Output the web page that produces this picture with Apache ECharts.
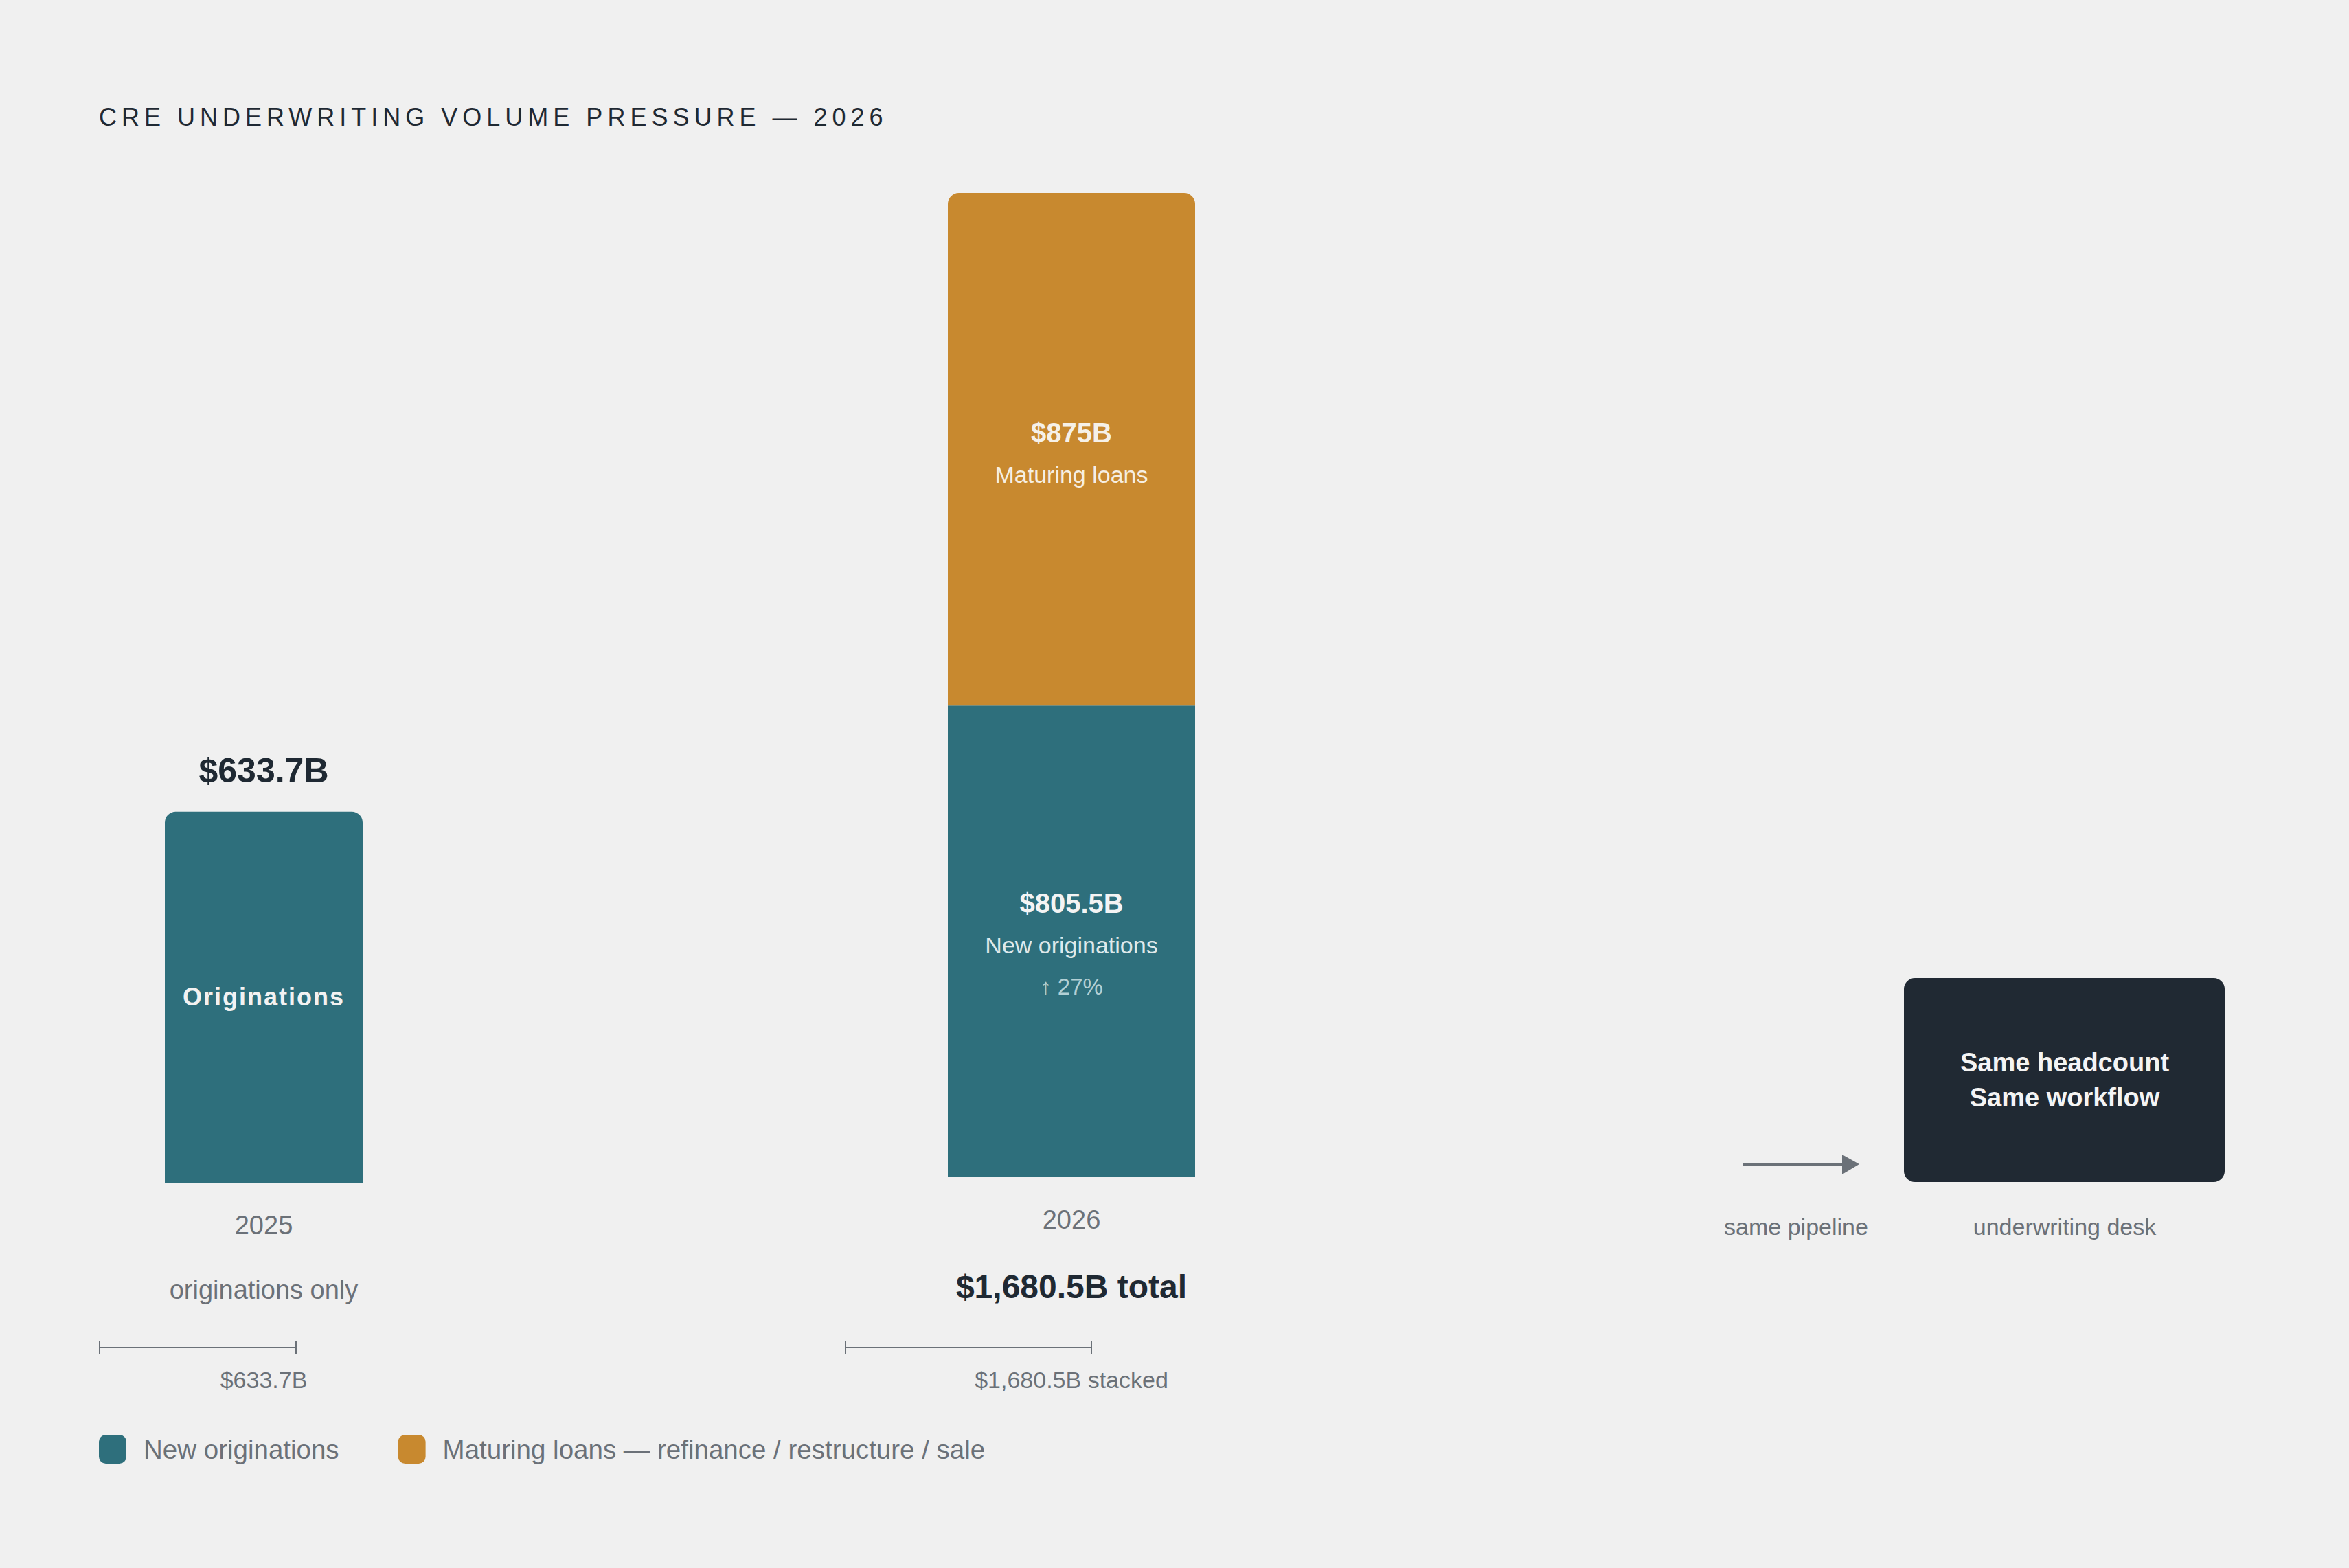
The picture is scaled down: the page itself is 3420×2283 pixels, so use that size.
<!DOCTYPE html>
<html><head><meta charset="utf-8">
<script src="https://cdn.jsdelivr.net/npm/echarts@6/dist/echarts.min.js"></script>
<style>html,body{margin:0;padding:0;background:#f0f0f0;}#c{width:3420px;height:2283px;}</style>
</head><body><div id="c"></div>
<script>
// ---- data ----
const chartTitle = 'CRE UNDERWRITING VOLUME PRESSURE — 2026';
const years = ['2025', '2026'];
const newOriginations = [633.7, 805.5];
const maturingLoans = [0, 875];
const seriesNames = ['New originations', 'Maturing loans — refinance / restructure / sale'];
const segmentNames = ['Originations', 'New originations', 'Maturing loans'];
const yearNotes = ['originations only', 'total'];
const scaleNotes = ['', 'stacked'];
const deskLabels = ['same pipeline', 'underwriting desk'];
const deskLines = ['Same headcount', 'Same workflow'];

// ---- style / layout ----
const FONT = '"Liberation Sans", Arial, Helvetica, sans-serif';
const TEAL = '#2e6f7c', ORANGE = '#c8892f', DARK = '#1f2933', GRAY = '#6b7178', BG = '#f0f0f0';
const PX = 0.8527, YMAX = 1700, PLOT_H = YMAX * PX;
const gridBoxes = [{left: 240, width: 288, base: 1722}, {left: 1380, width: 360, base: 1714}];
const scaleBars = [{x1: 145, x2: 431, y: 1962}, {x1: 1231, x2: 1589, y: 1962}];

const fmtB = v => '$' + v.toLocaleString('en-US', {maximumFractionDigits: 1}) + 'B';
const totals = newOriginations.map((v, i) => v + maturingLoans[i]);
const growthPct = Math.round((newOriginations[1] / newOriginations[0] - 1) * 100);

const chart = echarts.init(document.getElementById('c'), null, {renderer: 'svg'});

const grids = gridBoxes.map(g => ({left: g.left, width: g.width, top: g.base - PLOT_H, height: PLOT_H}));
const xAxes = gridBoxes.map((g, i) => ({
  type: 'category', gridIndex: i, data: [years[i]],
  axisLine: {show: false}, axisTick: {show: false}, splitLine: {show: false},
  axisLabel: {
    margin: 42, interval: 0,
    formatter: v => i === 0 ? `{yr|${v}}\n{sub|${yearNotes[0]}}` : `{yr|${v}}\n{tot|${fmtB(totals[1])} ${yearNotes[1]}}`,
    rich: {
      yr: {fontSize: 38, color: GRAY, lineHeight: 40, fontFamily: FONT},
      sub: {fontSize: 38, color: GRAY, lineHeight: 148, fontFamily: FONT},
      tot: {fontSize: 48, fontWeight: 'bold', color: DARK, lineHeight: 154, fontFamily: FONT}
    }
  }
}));
const yAxes = gridBoxes.map((g, i) => ({type: 'value', gridIndex: i, min: 0, max: YMAX, show: false, splitLine: {show: false}}));

const graphics = [];
scaleBars.forEach((s, i) => {
  const st = {stroke: GRAY, lineWidth: 2};
  graphics.push({type: 'line', shape: {x1: s.x1, y1: s.y, x2: s.x2, y2: s.y}, style: st, silent: true});
  graphics.push({type: 'line', shape: {x1: s.x1, y1: s.y - 9, x2: s.x1, y2: s.y + 9}, style: st, silent: true});
  graphics.push({type: 'line', shape: {x1: s.x2, y1: s.y - 9, x2: s.x2, y2: s.y + 9}, style: st, silent: true});
  const g = gridBoxes[i];
  graphics.push({type: 'text', x: g.left + g.width / 2, y: 2009, silent: true,
    style: {text: (fmtB(totals[i]) + ' ' + scaleNotes[i]).trim(), fill: GRAY, fontSize: 34, fontFamily: FONT, align: 'center', verticalAlign: 'middle'}});
});
// arrow
graphics.push({type: 'line', shape: {x1: 2538, y1: 1695, x2: 2690, y2: 1695}, style: {stroke: GRAY, lineWidth: 4}, silent: true});
graphics.push({type: 'polygon', shape: {points: [[2682, 1681], [2707, 1695], [2682, 1710]]}, style: {fill: GRAY}, silent: true});
// desk box
graphics.push({type: 'rect', shape: {x: 2772, y: 1424, width: 467, height: 297, r: 16}, style: {fill: '#202933'}, silent: true});
graphics.push({type: 'text', x: 3006, y: 1572, silent: true,
  style: {text: deskLines.join('\n'), fill: '#f4f4f4', fontSize: 38, fontWeight: 'bold', fontFamily: FONT, lineHeight: 51, align: 'center', verticalAlign: 'middle'}});
graphics.push({type: 'text', x: 2615, y: 1786, silent: true,
  style: {text: deskLabels[0], fill: GRAY, fontSize: 34, fontFamily: FONT, align: 'center', verticalAlign: 'middle'}});
graphics.push({type: 'text', x: 3006, y: 1786, silent: true,
  style: {text: deskLabels[1], fill: GRAY, fontSize: 34, fontFamily: FONT, align: 'center', verticalAlign: 'middle'}});

chart.setOption({
  backgroundColor: BG,
  animation: false,
  textStyle: {fontFamily: FONT},
  title: {text: chartTitle, left: 139, top: 147, textStyle: {fontSize: 36, fontWeight: 'normal', color: DARK, fontFamily: FONT}},
  legend: {
    left: 139, top: 2084, icon: 'roundRect', itemWidth: 40, itemHeight: 42, itemGap: 86,
    data: seriesNames,
    textStyle: {fontSize: 38.5, color: GRAY, fontFamily: FONT, padding: [0, 0, 0, 20]}
  },
  grid: grids, xAxis: xAxes, yAxis: yAxes,
  series: [
    {
      type: 'bar', name: seriesNames[0], xAxisIndex: 0, yAxisIndex: 0, barWidth: '100%',
      data: [newOriginations[0]],
      itemStyle: {color: TEAL, borderRadius: [16, 16, 0, 0]},
      label: {show: true, position: 'inside', formatter: segmentNames[0], color: '#f2f2f2', fontSize: 36, fontWeight: 'bold', fontFamily: FONT},
      markPoint: {
        symbol: 'rect', symbolSize: 1, itemStyle: {color: 'rgba(0,0,0,0)'},
        data: [{coord: [years[0], newOriginations[0]], value: newOriginations[0]}],
        label: {show: true, position: 'inside', offset: [0, -60], formatter: p => fmtB(p.value), color: DARK, fontSize: 50, fontWeight: 'bold', fontFamily: FONT}
      }
    },
    {
      type: 'bar', name: seriesNames[0], xAxisIndex: 1, yAxisIndex: 1, barWidth: '100%', stack: 'y2026',
      data: [newOriginations[1]],
      itemStyle: {color: TEAL},
      label: {
        show: true, position: 'inside', offset: [0, 5],
        formatter: p => `{v|${fmtB(p.value)}}\n{n|${segmentNames[1]}}\n{p|↑ ${growthPct}%}`,
        rich: {
          v: {fontSize: 40, fontWeight: 'bold', color: '#f4f4f4', lineHeight: 61, fontFamily: FONT},
          n: {fontSize: 34, color: '#dfe9eb', lineHeight: 61, fontFamily: FONT},
          p: {fontSize: 33, color: '#b3d0d5', lineHeight: 61, fontFamily: FONT}
        }
      }
    },
    {
      type: 'bar', name: seriesNames[1], xAxisIndex: 1, yAxisIndex: 1, barWidth: '100%', stack: 'y2026',
      data: [maturingLoans[1]],
      itemStyle: {color: ORANGE, borderRadius: [16, 16, 0, 0]},
      label: {
        show: true, position: 'inside', offset: [0, 6],
        formatter: p => `{v|${fmtB(p.value)}}\n{n|${segmentNames[2]}}`,
        rich: {
          v: {fontSize: 40, fontWeight: 'bold', color: '#f6f1e8', lineHeight: 61, fontFamily: FONT},
          n: {fontSize: 34, color: '#f6efe2', lineHeight: 61, fontFamily: FONT}
        }
      }
    }
  ],
  graphic: graphics
});

function spacing() {
  document.querySelectorAll('#c svg text').forEach(t => {
    if (t.textContent === chartTitle) t.setAttribute('letter-spacing', '7');
    if (t.textContent === segmentNames[0]) t.setAttribute('letter-spacing', '2');
  });
}
chart.on('finished', spacing);
spacing();
setTimeout(spacing, 50);
</script></body></html>
